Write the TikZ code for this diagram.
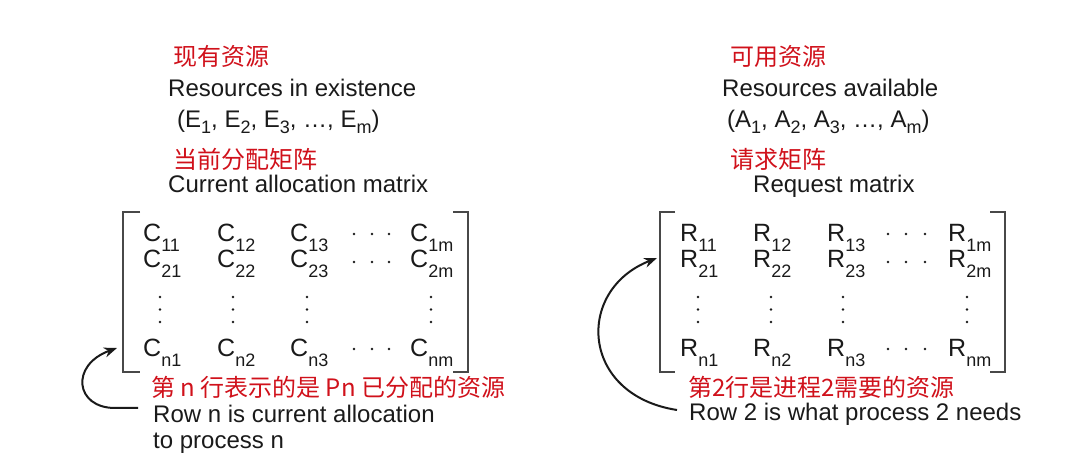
\documentclass[tikz,border=0pt]{standalone}
\usepackage{fontspec}
\setmainfont{Liberation Sans}
\newfontfamily\cjk{Noto Sans CJK SC}
\usetikzlibrary{arrows.meta}
\definecolor{cnred}{HTML}{D0111B}
\definecolor{ink}{HTML}{1A1A1A}
\newcommand{\fs}[1]{\fontsize{#1}{#1}\selectfont}
\newcommand{\ment}[2]{{\fs{25}#1}\raisebox{-9.5pt}{\fs{18}#2}}
\newcommand{\vsub}[1]{\raisebox{-6pt}{\fs{18}#1}}
\begin{document}
\begin{tikzpicture}[x=1pt,y=-1pt,
  en/.style={inner sep=0,anchor=base west,text=ink,font=\fs{24}},
  zh/.style={inner sep=0,anchor=west,text=cnred,font=\cjk\fs{24}},
  brk/.style={draw=ink!80,line width=1.3pt},
  mdot/.style={fill=ink,draw=none},
  arr/.style={draw=ink,line width=2pt,-{Stealth[length=13pt,width=10pt]}}]
\useasboundingbox (0,0) rectangle (1080,470);

% ---------- left block ----------
\node[zh] (lzh1) at (173,56) {现有资源};
\node[en] (lres) at (168,97) {Resources in existence};
\node[en] (lvec) at (177,128) {(E\vsub{1}, E\vsub{2}, E\vsub{3}, …, E\vsub{m})};
\node[zh] (lzh2) at (173,159) {当前分配矩阵};
\node[en] (lcur) at (168,193) {Current allocation matrix};

\draw[brk] (140,212) -- (123,212) -- (123,372) -- (140,372);
\draw[brk] (453,212) -- (468,212) -- (468,372) -- (453,372);

\foreach \x/\c in {143/1,217/2,290/3,410/m}
  \foreach \y/\r in {242/1,268/2,357/n}
    \node[en] (L\r\c) at (\x,\y) {\ment{C}{\r\c}};
\foreach \y in {234,262,349}
  \foreach \x in {354,372,389}
    \fill[mdot] (\x,\y) circle (1.3);
\foreach \x in {160,233,307,431}
  \foreach \y in {297,309.5,322}
    \fill[mdot] (\x,\y) circle (1.3);

\node[zh] (lzh3) at (151,387) {第 n 行表示的是 Pn 已分配的资源};
\node[en] (lrow1) at (153,423) {Row n is current allocation};
\node[en] (lrow2) at (153,449) {to process n};

\coordinate (lstart) at (138,408);
\coordinate (lbend) at (115,408);
\coordinate (ltip) at (117,348);
\draw[arr] (lstart) -- (lbend) .. controls (75,408) and (70,365) .. (ltip);

% ---------- right block ----------
\node[zh] (rzh1) at (730,56) {可用资源};
\node[en] (rres) at (722,97) {Resources available};
\node[en] (rvec) at (727,128) {(A\vsub{1}, A\vsub{2}, A\vsub{3}, …, A\vsub{m})};
\node[zh] (rzh2) at (730,159) {请求矩阵};
\node[en] (rreq) at (753,193) {Request matrix};

\draw[brk] (675,212) -- (660,212) -- (660,372) -- (675,372);
\draw[brk] (990,212) -- (1005,212) -- (1005,372) -- (990,372);

\foreach \x/\c in {680/1,753/2,827/3,948/m}
  \foreach \y/\r in {242/1,268/2,357/n}
    \node[en] (R\r\c) at (\x,\y) {\ment{R}{\r\c}};
\foreach \y in {234,262,349}
  \foreach \x in {888,906,925}
    \fill[mdot] (\x,\y) circle (1.3);
\foreach \x in {698,771,843,967}
  \foreach \y in {297,309.5,322}
    \fill[mdot] (\x,\y) circle (1.3);

\node[zh] (rzh3) at (688,387) {第2行是进程2需要的资源};
\node[en] (rrow) at (689,421) {Row 2 is what process 2 needs};

\coordinate (rstart) at (677,410);
\coordinate (rtip) at (657,258);
\draw[arr] (rstart) .. controls (580,395) and (575,290) .. (rtip);
\end{tikzpicture}
\end{document}
